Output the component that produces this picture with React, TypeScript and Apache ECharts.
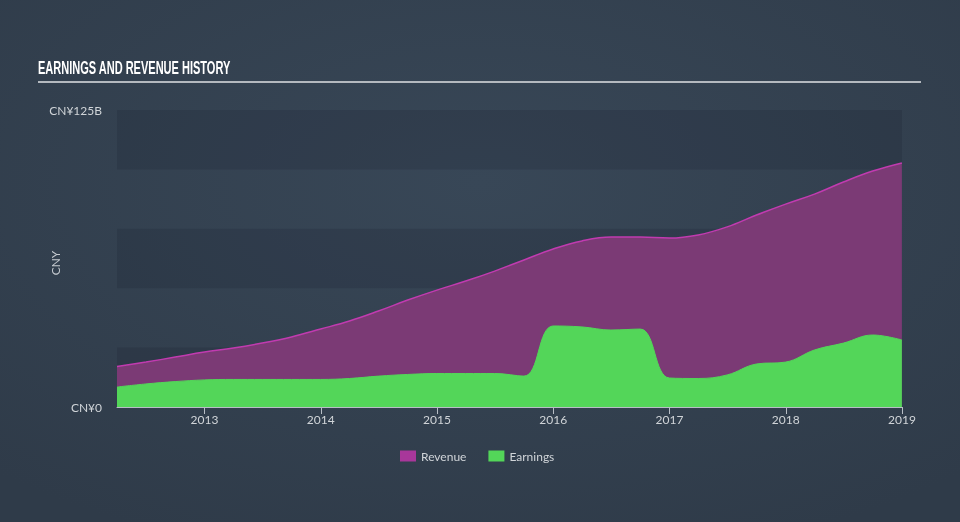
import React, { useEffect, useRef } from "react";
import * as echarts from "echarts";

// Quarterly dates as decimal years (end of quarter)
const quarters: number[] = [
  2012.247, 2012.496, 2012.748, 2012.999,
  2013.247, 2013.496, 2013.748, 2013.999,
  2014.247, 2014.496, 2014.748, 2014.999,
  2015.247, 2015.496, 2015.748, 2015.999,
  2016.247, 2016.496, 2016.748, 2016.999,
  2017.247, 2017.496, 2017.748, 2017.999,
  2018.247, 2018.496, 2018.748, 2018.999,
];

// Values in CNY billions
const revenue: number[] = [
  17.0, 18.9, 21.0, 23.1,
  24.8, 26.9, 29.5, 32.8,
  36.2, 40.4, 45.0, 49.2,
  53.0, 57.2, 61.9, 66.5,
  69.9, 71.5, 71.5, 71.1,
  72.4, 75.8, 80.8, 85.4,
  89.6, 94.7, 99.3, 102.7,
];

const earnings: number[] = [
  8.4, 9.7, 10.7, 11.4,
  11.6, 11.6, 11.6, 11.6,
  12.0, 13.0, 13.7, 14.1,
  14.1, 14.1, 13.0, 34.1,
  33.7, 32.4, 32.8, 12.2,
  12.0, 13.5, 18.1, 18.9,
  24.0, 26.9, 30.3, 28.2,
];

const yearTicks: number[] = [2013, 2014, 2015, 2016, 2017, 2018, 2019];
const yMax = 125;
const titleText = "EARNINGS AND REVENUE HISTORY";
const yAxisName = "CNY";

export default function App() {
  const ref = useRef<HTMLDivElement>(null);
  useEffect(() => {
    if (!ref.current) return;
    const chart = echarts.init(ref.current, undefined, { renderer: "svg" });
    const labelFont = "Lato, 'Open Sans', sans-serif";
    chart.setOption({
      animation: false,
      backgroundColor: new echarts.graphic.RadialGradient(0.5, 0.35, 0.75, [
        { offset: 0, color: "#384757" },
        { offset: 1, color: "#2f3b49" },
      ]),
      graphic: [
        {
          type: "text",
          x: 38,
          y: 58,
          scaleX: 0.58,
          style: {
            text: titleText,
            fill: "#ffffff",
            fontSize: 19,
            fontWeight: "bold",
            fontFamily: "'Liberation Sans', Arial, sans-serif",
          },
        },
        {
          type: "line",
          shape: { x1: 38, y1: 82, x2: 921, y2: 82 },
          style: { stroke: "#b4b9bf", lineWidth: 2 },
        },
        {
          type: "text",
          x: 55,
          y: 263,
          rotation: Math.PI / 2,
          style: {
            text: yAxisName,
            fill: "#c4c9cf",
            fontSize: 12,
            fontFamily: labelFont,
            align: "center",
            verticalAlign: "middle",
          },
        },
      ],
      legend: {
        bottom: 55,
        left: 395,
        itemWidth: 16,
        itemHeight: 11,
        itemGap: 22,
        icon: "rect",
        textStyle: { color: "#d0d4d8", fontSize: 12, fontFamily: labelFont },
        data: [
          { name: "Revenue", itemStyle: { color: "#a8379a" } },
          { name: "Earnings", itemStyle: { color: "#53d659" } },
        ],
      },
      grid: { left: 117, right: 58, top: 110, bottom: 115 },
      xAxis: {
        type: "value",
        min: 2012.247,
        max: 2019.0,
        splitLine: { show: false },
        axisLine: { show: true, lineStyle: { color: "#b8bec6", width: 1 } },
        axisTick: {
          show: true,
          length: 7,
          customValues: yearTicks,
          lineStyle: { color: "#b8bec6" },
        },
        axisLabel: {
          customValues: yearTicks,
          color: "#d0d4d8",
          fontSize: 12,
          fontFamily: labelFont,
          margin: 6,
          formatter: (v: number) => String(Math.round(v)),
        },
      },
      yAxis: {
        type: "value",
        min: 0,
        max: yMax,
        interval: 25,
        axisLine: { show: false },
        axisTick: { show: false },
        splitLine: { show: false },
        splitArea: {
          show: true,
          areaStyle: { color: ["rgba(20,30,42,0.18)", "rgba(0,0,0,0)"] },
        },
        axisLabel: {
          color: "#d0d4d8",
          fontSize: 12,
          fontFamily: labelFont,
          margin: 15,
          formatter: (v: number) => (v === 0 ? "CN¥0" : v === yMax ? "CN¥" + yMax + "B" : ""),
        },
      },
      series: [
        {
          name: "Revenue",
          type: "line",
          smooth: 0.4,
          symbol: "none",
          data: quarters.map((q, i) => [q, revenue[i]]),
          lineStyle: { color: "#c13bb0", width: 1.5 },
          itemStyle: { color: "#a8379a" },
          areaStyle: { color: "#7b3a75", opacity: 1 },
          z: 2,
        },
        {
          name: "Earnings",
          type: "line",
          smooth: 0.4,
          symbol: "none",
          data: quarters.map((q, i) => [q, earnings[i]]),
          lineStyle: { color: "#53d659", width: 1 },
          itemStyle: { color: "#53d659" },
          areaStyle: { color: "#53d659", opacity: 1 },
          z: 3,
        },
      ],
    });
    return () => chart.dispose();
  }, []);
  return (
    <div
      ref={ref}
      style={{ position: "fixed", left: 0, top: 0, width: 960, height: 522 }}
    />
  );
}
